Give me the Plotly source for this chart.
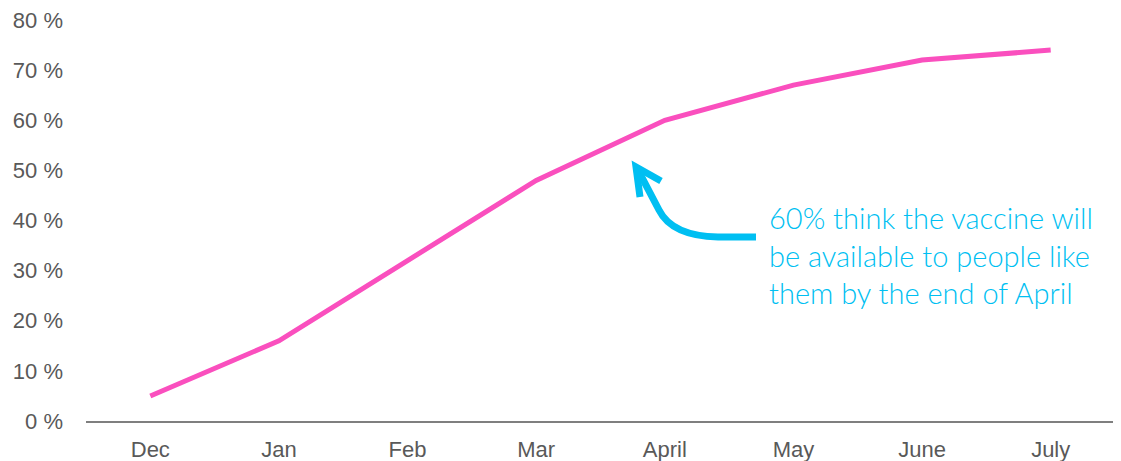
import plotly.graph_objects as go

months = ["Dec", "Jan", "Feb", "Mar", "April", "May", "June", "July"]
share = [5, 16, 32, 48, 60, 67, 72, 74]
y_ticks = [0, 10, 20, 30, 40, 50, 60, 70, 80]
y_tick_labels = [f"{v} %" for v in y_ticks]
note = "60% think the vaccine will<br>be available to people like<br>them by the end of April"

OFF = 8  # default page body margin
W, H = 1121 - OFF, 461 - OFF
ML, MR, MT, MB = 78, 6, 12, 40
PW, PH = W - ML - MR, H - MT - MB


def px(x):
    return (x - OFF - ML) / PW


def py(y):
    return 1 - (y - OFF - MT) / PH


fig = go.Figure()
fig.add_trace(go.Scatter(
    x=months, y=share, mode="lines",
    line=dict(color="#FA4FBE", width=5),
    hoverinfo="skip", showlegend=False,
))

arrow_color = "#00BFF2"
curve = (f"M {px(756)},{py(237)} L {px(718)},{py(237)} "
         f"Q {px(672)},{py(236)} {px(659)},{py(210)} "
         f"L {px(638)},{py(170)}")
head = (f"M {px(661)},{py(181)} L {px(636)},{py(167)} L {px(640)},{py(197)}")

shapes = [
    dict(type="path", path=curve, xref="paper", yref="paper",
         line=dict(color=arrow_color, width=7)),
    dict(type="path", path=head, xref="paper", yref="paper",
         line=dict(color=arrow_color, width=7)),
]

fig.add_annotation(
    x=px(767), y=py(198), xref="paper", yref="paper",
    xanchor="left", yanchor="top", align="left", showarrow=False,
    text=note,
    font=dict(family="Lato, sans-serif", size=29, weight=300, color=arrow_color),
)

fig.update_layout(
    width=W, height=H,
    margin=dict(l=ML, r=MR, t=MT, b=MB, autoexpand=False),
    paper_bgcolor="white", plot_bgcolor="white",
    shapes=shapes,
    font=dict(family="Liberation Sans, Arial, sans-serif", size=22, color="#595959"),
    xaxis=dict(
        type="category", range=[-0.5, 7.5], automargin=False,
        showgrid=False, showline=True, linecolor="#7F7F7F", linewidth=2,
        ticks="", tickfont=dict(size=22, color="#595959"), zeroline=False,
        ticklabelstandoff=8,
    ),
    yaxis=dict(
        range=[0, 80], tickmode="array", tickvals=y_ticks, ticktext=y_tick_labels,
        automargin=False,
        showgrid=False, showline=False, zeroline=False, ticks="",
        tickfont=dict(size=22, color="#595959"),
        ticklabelstandoff=22, ticklabeloverflow="allow",
    ),
)

fig.write_html("out.html")
